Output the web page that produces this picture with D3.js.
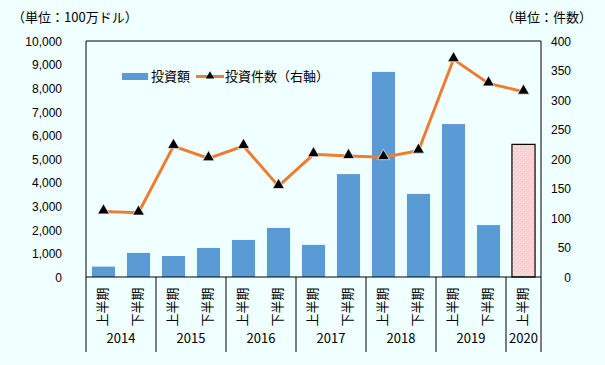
<!DOCTYPE html>
<html>
<head>
<meta charset="utf-8">
<script src="https://cdn.jsdelivr.net/npm/d3@7"></script>
<style>
  body { margin: 0; background: #f0ffff; }
  svg { display: block; font-family: "Noto Sans CJK JP", sans-serif; }
  .axis path, .axis line { display: none; }
  .axis text { font-size: 12px; fill: #000; }
</style>
</head>
<body>
<svg width="605" height="365"></svg>
<script>
var halves = ["上半期", "下半期", "上半期", "下半期", "上半期", "下半期", "上半期", "下半期",
              "上半期", "下半期", "上半期", "下半期", "上半期"];
var years = ["2014", "2015", "2016", "2017", "2018", "2019", "2020"];
var amounts = [440, 1020, 890, 1230, 1570, 2080, 1360, 4360, 8690, 3520, 6480, 2200, 5620];
var counts = [111, 109, 222, 201, 222, 154, 208, 205, 203, 214, 369, 328, 314];
var leftTicks = [0, 1000, 2000, 3000, 4000, 5000, 6000, 7000, 8000, 9000, 10000];
var rightTicks = [0, 50, 100, 150, 200, 250, 300, 350, 400];

var svg = d3.select("svg"),
    margin = {top: 41, right: 64, bottom: 88, left: 86},
    width = +svg.attr("width") - margin.left - margin.right,
    height = +svg.attr("height") - margin.top - margin.bottom;

var defs = svg.append("defs");
var pat = defs.append("pattern")
    .attr("id", "dots")
    .attr("patternUnits", "userSpaceOnUse")
    .attr("width", 4).attr("height", 4);
pat.append("rect").attr("width", 4).attr("height", 4).attr("fill", "#ffcccf");
pat.append("rect").attr("x", 1).attr("y", 1).attr("width", 1).attr("height", 1).attr("fill", "#fff");
pat.append("rect").attr("x", 3).attr("y", 3).attr("width", 1).attr("height", 1).attr("fill", "#fff");

var g = svg.append("g").attr("transform", "translate(" + margin.left + "," + margin.top + ")");

var idx = d3.range(halves.length);

var x = d3.scaleBand()
    .domain(idx)
    .range([0, width])
    .paddingInner(0.34)
    .paddingOuter(0.17);

var y = d3.scaleLinear().domain([0, 10000]).range([height, 0]);
var y2 = d3.scaleLinear().domain([0, 400]).range([height, 0]);

// bars
g.selectAll(".bar")
  .data(amounts)
  .enter().append("rect")
    .attr("class", "bar")
    .attr("x", function(d, i) { return x(i); })
    .attr("y", function(d) { return y(d); })
    .attr("width", x.bandwidth())
    .attr("height", function(d) { return height - y(d); })
    .attr("fill", function(d, i) { return i == amounts.length - 1 ? "url(#dots)" : "#5b9bd5"; })
    .attr("stroke", function(d, i) { return i == amounts.length - 1 ? "#000" : "none"; })
    .attr("stroke-width", 1.2);

// line
var line = d3.line()
    .x(function(d, i) { return x(i) + x.bandwidth() / 2; })
    .y(function(d) { return y2(d); });

g.append("path")
    .datum(counts)
    .attr("fill", "none")
    .attr("stroke", "#ed7d31")
    .attr("stroke-width", 3)
    .attr("d", line);

var tri = d3.symbol().type(d3.symbolTriangle).size(60);
g.selectAll(".mark")
  .data(counts)
  .enter().append("path")
    .attr("class", "mark")
    .attr("transform", function(d, i) { return "translate(" + (x(i) + x.bandwidth() / 2) + "," + (y2(d) - 1) + ")"; })
    .attr("d", tri)
    .attr("fill", "#000")
    .attr("stroke", "#fff")
    .attr("stroke-width", 0.7);

// frame
g.append("line").attr("x1", 0).attr("x2", width).attr("y1", 0).attr("y2", 0).attr("stroke", "#000");
g.append("line").attr("x1", 0).attr("x2", width).attr("y1", height).attr("y2", height).attr("stroke", "#000");
g.append("line").attr("x1", 0).attr("x2", 0).attr("y1", 0).attr("y2", height + 75).attr("stroke", "#000");
g.append("line").attr("x1", width).attr("x2", width).attr("y1", 0).attr("y2", height + 75).attr("stroke", "#000");

// year separators
var step = x.step();
years.forEach(function(yr, k) {
  var i0 = k * 2, i1 = Math.min(k * 2 + 1, halves.length - 1);
  var x0 = x(i0) - x.paddingInner() * step / 2;
  var x1 = x(i1) + x.bandwidth() + x.paddingInner() * step / 2;
  if (k > 0) {
    g.append("line").attr("x1", x0).attr("x2", x0).attr("y1", height).attr("y2", height + 75).attr("stroke", "#000");
  }
  g.append("text")
    .attr("x", (x0 + x1) / 2)
    .attr("y", height + 66)
    .attr("text-anchor", "middle")
    .style("font-size", "13px")
    .text(yr);
});

// half-year labels
g.selectAll(".half")
  .data(halves)
  .enter().append("text")
    .attr("class", "half")
    .attr("transform", function(d, i) { return "translate(" + (x(i) + x.bandwidth() / 2 + 3) + "," + (height + 30) + ") rotate(-90)"; })
    .attr("text-anchor", "middle")
    .style("font-size", "13px")
    .text(function(d) { return d; });

// axes
g.append("g")
    .attr("class", "axis")
    .attr("transform", "translate(-21,0)")
    .call(d3.axisLeft(y).tickValues(leftTicks).tickFormat(d3.format(",")).tickSize(0))
  .selectAll("text").attr("dy", "0.35em");

g.append("g")
    .attr("class", "axis")
    .attr("transform", "translate(" + (width + 33) + ",0)")
    .call(d3.axisLeft(y2).tickValues(rightTicks).tickSize(0))
  .selectAll("text").attr("dy", "0.35em");

// units
svg.append("text").attr("x", 12).attr("y", 22).style("font-size", "13px").text("（単位：100万ドル）");
svg.append("text").attr("x", 592).attr("y", 22).attr("text-anchor", "end").style("font-size", "13px").text("（単位：件数）");

// legend
var lg = svg.append("g");
lg.append("rect").attr("x", 122).attr("y", 73).attr("width", 26).attr("height", 7).attr("fill", "#5b9bd5");
lg.append("text").attr("x", 151).attr("y", 81).style("font-size", "13px").text("投資額");
lg.append("line").attr("x1", 196).attr("x2", 224).attr("y1", 76.5).attr("y2", 76.5).attr("stroke", "#ed7d31").attr("stroke-width", 3);
lg.append("path").attr("transform", "translate(210,76)").attr("d", d3.symbol().type(d3.symbolTriangle).size(30)).attr("fill", "#000");
lg.append("text").attr("x", 225).attr("y", 81).style("font-size", "13px").text("投資件数（右軸）");
</script>
</body>
</html>
